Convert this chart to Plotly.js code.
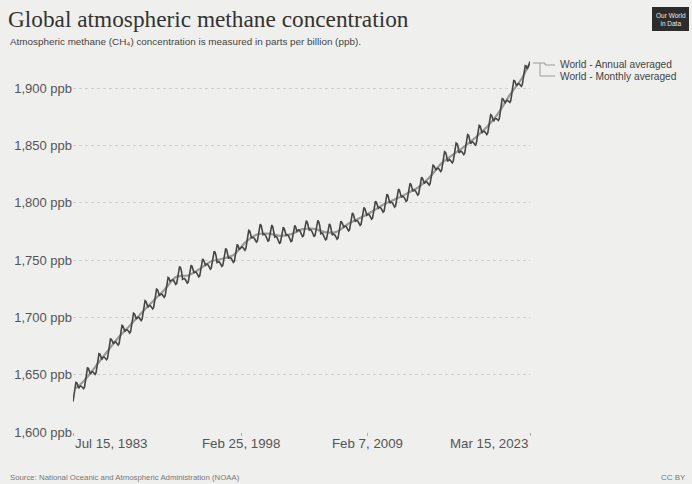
<!DOCTYPE html>
<html>
<head>
<meta charset="utf-8">
<script src="https://cdn.plot.ly/plotly-3.0.1.min.js"></script>
<style>html,body{margin:0;padding:0;background:#efefed;}#chart{width:692px;height:484px;}</style>
</head>
<body>
<div id="chart"></div>
<script>
// ---- Data ----
const monthlyStartYear = 1983;
const monthlyStartMonth = 7; // July 1983, each value dated the 15th
const monthlyPpb = [
  1626.5, 1633.6, 1640.7, 1643.3, 1642.9, 1640.5,
  1638.1, 1639.6, 1640.2, 1639.7, 1638.7, 1637.8, 1639.3, 1646.4, 1653.4, 1655.9, 1655.5, 1653.0,
  1650.6, 1652.1, 1652.7, 1652.2, 1651.2, 1650.3, 1651.8, 1658.9, 1665.9, 1668.4, 1668.0, 1665.5,
  1663.4, 1664.9, 1665.5, 1665.0, 1664.0, 1663.1, 1664.6, 1671.7, 1678.7, 1681.2, 1680.8, 1678.3,
  1677.1, 1678.4, 1678.8, 1678.1, 1676.9, 1675.8, 1677.1, 1684.0, 1690.8, 1693.1, 1692.5, 1689.8,
  1687.7, 1689.0, 1689.4, 1688.7, 1687.5, 1686.4, 1687.7, 1694.6, 1701.4, 1703.7, 1703.1, 1700.4,
  1698.6, 1699.9, 1700.3, 1699.6, 1698.4, 1697.3, 1698.6, 1705.5, 1712.3, 1714.6, 1714.0, 1711.3,
  1708.8, 1710.1, 1710.5, 1709.8, 1708.6, 1707.5, 1708.8, 1715.7, 1722.5, 1724.8, 1724.2, 1721.5,
  1718.9, 1720.2, 1720.6, 1719.9, 1718.7, 1717.6, 1718.9, 1725.8, 1732.6, 1734.9, 1734.3, 1731.6,
  1732.2, 1733.1, 1733.0, 1732.0, 1730.4, 1728.8, 1729.7, 1736.1, 1742.5, 1744.5, 1743.4, 1740.3,
  1733.3, 1734.2, 1734.1, 1733.1, 1731.5, 1729.9, 1730.8, 1737.2, 1743.6, 1745.6, 1744.5, 1741.4,
  1738.8, 1739.7, 1739.6, 1738.6, 1737.0, 1735.4, 1736.3, 1742.7, 1749.1, 1751.1, 1750.0, 1746.9,
  1745.6, 1746.5, 1746.4, 1745.4, 1743.8, 1742.2, 1743.1, 1749.5, 1755.9, 1757.9, 1756.8, 1753.7,
  1747.9, 1748.8, 1748.7, 1747.7, 1746.1, 1744.5, 1745.4, 1751.8, 1758.2, 1760.2, 1759.1, 1756.0,
  1751.4, 1752.3, 1752.2, 1751.2, 1749.6, 1748.0, 1748.9, 1755.3, 1761.7, 1763.7, 1762.6, 1759.5,
  1760.0, 1761.3, 1761.7, 1761.0, 1759.8, 1758.7, 1760.0, 1766.9, 1773.7, 1776.0, 1775.4, 1772.7,
  1769.1, 1770.0, 1769.9, 1768.9, 1767.3, 1765.7, 1766.6, 1773.0, 1779.4, 1781.4, 1780.3, 1777.2,
  1772.2, 1772.7, 1772.2, 1770.7, 1768.7, 1766.7, 1767.2, 1773.2, 1779.2, 1780.7, 1779.2, 1775.7,
  1770.3, 1770.8, 1770.3, 1768.8, 1766.8, 1764.8, 1765.3, 1771.3, 1777.3, 1778.8, 1777.3, 1773.8,
  1771.8, 1772.3, 1771.8, 1770.3, 1768.3, 1766.3, 1766.8, 1772.8, 1778.8, 1780.3, 1778.8, 1775.3,
  1776.1, 1776.6, 1776.1, 1774.6, 1772.6, 1770.6, 1771.1, 1777.1, 1783.1, 1784.6, 1783.1, 1779.6,
  1776.3, 1776.8, 1776.3, 1774.8, 1772.8, 1770.8, 1771.3, 1777.3, 1783.3, 1784.8, 1783.3, 1779.8,
  1773.2, 1773.7, 1773.2, 1771.7, 1769.7, 1767.7, 1768.2, 1774.2, 1780.2, 1781.7, 1780.2, 1776.7,
  1771.8, 1772.7, 1772.6, 1771.6, 1770.0, 1768.4, 1769.3, 1775.7, 1782.1, 1784.1, 1783.0, 1779.9,
  1778.9, 1779.8, 1779.7, 1778.7, 1777.1, 1775.5, 1776.4, 1782.8, 1789.2, 1791.2, 1790.1, 1787.0,
  1783.7, 1784.6, 1784.5, 1783.5, 1781.9, 1780.3, 1781.2, 1787.6, 1794.0, 1796.0, 1794.9, 1791.8,
  1789.2, 1790.1, 1790.0, 1789.0, 1787.4, 1785.8, 1786.7, 1793.1, 1799.5, 1801.5, 1800.4, 1797.3,
  1795.3, 1796.2, 1796.1, 1795.1, 1793.5, 1791.9, 1792.8, 1799.2, 1805.6, 1807.6, 1806.5, 1803.4,
  1799.8, 1800.7, 1800.6, 1799.6, 1798.0, 1796.4, 1797.3, 1803.7, 1810.1, 1812.1, 1811.0, 1807.9,
  1804.8, 1805.7, 1805.6, 1804.6, 1803.0, 1801.4, 1802.3, 1808.7, 1815.1, 1817.1, 1816.0, 1812.9,
  1810.2, 1811.1, 1811.0, 1810.0, 1808.4, 1806.8, 1807.7, 1814.1, 1820.5, 1822.5, 1821.4, 1818.3,
  1816.9, 1818.2, 1818.6, 1817.9, 1816.7, 1815.6, 1816.9, 1823.8, 1830.6, 1832.9, 1832.3, 1829.6,
  1828.7, 1830.0, 1830.4, 1829.7, 1828.5, 1827.4, 1828.7, 1835.6, 1842.4, 1844.7, 1844.1, 1841.4,
  1836.3, 1837.6, 1838.0, 1837.3, 1836.1, 1835.0, 1836.3, 1843.2, 1850.0, 1852.3, 1851.7, 1849.0,
  1843.6, 1844.9, 1845.3, 1844.6, 1843.4, 1842.3, 1843.6, 1850.5, 1857.3, 1859.6, 1859.0, 1856.3,
  1851.7, 1853.0, 1853.4, 1852.7, 1851.5, 1850.4, 1851.7, 1858.6, 1865.4, 1867.7, 1867.1, 1864.4,
  1861.0, 1862.3, 1862.7, 1862.0, 1860.8, 1859.7, 1861.0, 1867.9, 1874.7, 1877.0, 1876.4, 1873.7,
  1871.2, 1873.0, 1873.7, 1873.5, 1872.7, 1872.0, 1873.7, 1881.0, 1888.2, 1891.0, 1890.7, 1888.5,
  1887.0, 1888.8, 1889.5, 1889.3, 1888.5, 1887.8, 1889.5, 1896.8, 1904.0, 1906.8, 1906.5, 1904.3,
  1902.1, 1903.6, 1904.2, 1903.7, 1902.7, 1901.8, 1903.3, 1910.4, 1917.4, 1919.9, 1919.5, 1917.0,
  1918.5, 1921.0, 1923.5
];

const annualDates = [
  '1983-10-01','1984-07-01','1985-07-01','1986-07-01','1987-07-01','1988-07-01','1989-07-01',
  '1990-07-01','1991-07-01','1992-07-01','1993-07-01','1994-07-01','1995-07-01','1996-07-01',
  '1997-07-01','1998-07-01','1999-07-01','2000-07-01','2001-07-01','2002-07-01','2003-07-01',
  '2004-07-01','2005-07-01','2006-07-01','2007-07-01','2008-07-01','2009-07-01','2010-07-01',
  '2011-07-01','2012-07-01','2013-07-01','2014-07-01','2015-07-01','2016-07-01','2017-07-01',
  '2018-07-01','2019-07-01','2020-07-01','2021-07-01','2022-07-01','2023-02-15'
];
const annualPpb = [
  1638.0, 1644.8, 1657.3, 1670.1, 1682.7, 1693.3, 1704.2,
  1714.4, 1724.5, 1735.5, 1736.6, 1742.1, 1748.9, 1751.2,
  1754.7, 1765.6, 1772.4, 1773.2, 1771.3, 1772.8, 1777.1,
  1777.3, 1774.2, 1775.1, 1782.2, 1787.0, 1792.5, 1798.6,
  1803.1, 1808.1, 1813.5, 1822.5, 1834.3, 1841.9, 1849.2,
  1857.3, 1866.6, 1879.1, 1894.9, 1908.8, 1921.0
];

const yTicks = [1600, 1650, 1700, 1750, 1800, 1850, 1900];
const yTickLabels = ['1,600 ppb', '1,650 ppb', '1,700 ppb', '1,750 ppb', '1,800 ppb', '1,850 ppb', '1,900 ppb'];
const xTickDates = ['1983-07-15', '1998-02-25', '2009-02-07', '2023-03-15'];
const xTickLabels = ['Jul 15, 1983', 'Feb 25, 1998', 'Feb 7, 2009', 'Mar 15, 2023'];
const seriesNames = ['World - Annual averaged', 'World - Monthly averaged'];

// ---- Build dates for monthly series ----
const monthlyDates = monthlyPpb.map((v, i) => {
  const idx = (monthlyStartMonth - 1) + i;
  const y = monthlyStartYear + Math.floor(idx / 12);
  const m = (idx % 12) + 1;
  return y + '-' + String(m).padStart(2, '0') + '-15';
});

// ---- Pixel helpers for decoration ----
const W = 692, H = 484;
const M = {l: 73, r: 162, t: 54, b: 52};
const PW = W - M.l - M.r, PH = H - M.t - M.b;
const px = x => (x - M.l) / PW;
const py = y => (H - M.b - y) / PH;

const FONT = 'Liberation Sans, Arial, sans-serif';

const traces = [
  {
    x: annualDates, y: annualPpb, type: 'scatter', mode: 'lines', name: seriesNames[0],
    line: {color: '#9a9a9a', width: 2.2, shape: 'spline', smoothing: 0.8},
    hoverinfo: 'skip'
  },
  {
    x: monthlyDates, y: monthlyPpb, type: 'scatter', mode: 'lines', name: seriesNames[1],
    line: {color: '#464646', width: 1.6},
    hoverinfo: 'skip'
  }
];

const annotations = [];
xTickDates.forEach((d, i) => {
  annotations.push({
    x: d, xref: 'x', y: 0, yref: 'paper', yanchor: 'top', yshift: -2,
    xanchor: i === 0 ? 'left' : (i === xTickDates.length - 1 ? 'right' : 'center'),
    text: xTickLabels[i], showarrow: false,
    font: {family: FONT, size: 13.3, color: '#555'}
  });
});
annotations.push(
  {x: px(8), y: py(42), xref: 'paper', yref: 'paper', xanchor: 'left', yanchor: 'middle',
   text: 'Atmospheric methane (CH₄) concentration is measured in parts per billion (ppb).',
   showarrow: false, font: {family: FONT, size: 9.9, color: '#444'}},
  {x: px(8), y: py(477), xref: 'paper', yref: 'paper', xanchor: 'left', yanchor: 'middle',
   text: 'Source: National Oceanic and Atmospheric Administration (NOAA)',
   showarrow: false, font: {family: FONT, size: 7.8, color: '#777'}},
  {x: px(688), y: py(477), xref: 'paper', yref: 'paper', xanchor: 'right', yanchor: 'middle',
   text: 'CC BY', showarrow: false, font: {family: FONT, size: 8, color: '#777'}},
  {x: px(670.5), y: py(19), xref: 'paper', yref: 'paper', xanchor: 'center', yanchor: 'middle',
   text: 'Our World<br>in Data', showarrow: false,
   font: {family: FONT, size: 6.5, color: '#e8e8e8'}},
  {x: px(558), y: py(65), xref: 'paper', yref: 'paper', xanchor: 'left', yanchor: 'middle',
   text: seriesNames[0], showarrow: false, font: {family: FONT, size: 10.2, color: '#444'}},
  {x: px(558), y: py(76), xref: 'paper', yref: 'paper', xanchor: 'left', yanchor: 'middle',
   text: seriesNames[1], showarrow: false, font: {family: FONT, size: 10.2, color: '#444'}}
);

const shapes = [
  {type: 'rect', xref: 'paper', yref: 'paper', x0: px(652), x1: px(689), y0: py(7), y1: py(31),
   fillcolor: '#2c2c2c', line: {width: 0}},
  {type: 'path', xref: 'paper', yref: 'paper',
   path: `M${px(533)},${py(63)} L${px(545)},${py(63)} L${px(545)},${py(65)} L${px(555)},${py(65)}`,
   line: {color: '#9a9a9a', width: 1}},
  {type: 'path', xref: 'paper', yref: 'paper',
   path: `M${px(540)},${py(63)} L${px(540)},${py(76)} L${px(555)},${py(76)}`,
   line: {color: '#9a9a9a', width: 1}}
];

const layout = {
  width: W, height: H,
  margin: M,
  paper_bgcolor: '#efefed', plot_bgcolor: '#efefed',
  showlegend: false,
  title: {
    text: 'Global atmospheric methane concentration',
    x: 8 / W, xanchor: 'left', xref: 'container',
    y: 1 - 19 / H, yanchor: 'middle', yref: 'container',
    font: {family: 'Liberation Serif, Times New Roman, serif', size: 23.3, color: '#333'}
  },
  xaxis: {
    type: 'date', range: [xTickDates[0], xTickDates[xTickDates.length - 1]],
    showgrid: false, zeroline: false, showline: false,
    tickmode: 'array', tickvals: xTickDates, showticklabels: false,
    ticks: 'outside', ticklen: 3, tickcolor: '#aaa', fixedrange: true
  },
  yaxis: {
    range: [1600, 1930], tickmode: 'array', tickvals: yTicks, ticktext: yTickLabels,
    showgrid: true, gridcolor: '#cfcfcf', griddash: 'dot', gridwidth: 1,
    zeroline: false, showline: false, ticks: '', automargin: false,
    tickfont: {family: FONT, size: 13, color: '#555'}, fixedrange: true
  },
  annotations: annotations,
  shapes: shapes
};

Plotly.newPlot('chart', traces, layout, {displayModeBar: false, staticPlot: true});
</script>
</body>
</html>
